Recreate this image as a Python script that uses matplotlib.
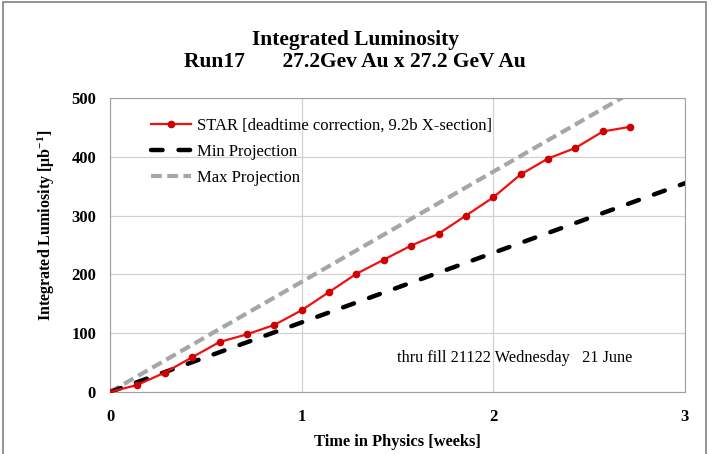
import numpy as np
import matplotlib
matplotlib.use("Agg")
import matplotlib.pyplot as plt
import matplotlib.patches as mpatches

plt.rcParams["font.family"] = ["Liberation Serif", "DejaVu Serif"]
plt.rcParams["mathtext.fontset"] = "custom"
plt.rcParams["mathtext.rm"] = "Liberation Serif:bold"
plt.rcParams["mathtext.it"] = "Liberation Serif:bold"
plt.rcParams["mathtext.bf"] = "Liberation Serif:bold"

# ── data ─────────────────────────────────────────────────────────────────────
days      = np.arange(20)
star_wk   = days / 7.0
star_lumi = [0, 12, 33, 59, 85, 98, 114, 139, 170, 201,
             225, 249, 269, 300, 331, 370, 397, 415, 443, 451]

min_wk    = [0, 3]
min_lumi  = [0, 355]
max_wk    = [0, 3]
max_lumi  = [0, 562]

xticks = [0, 1, 2, 3]
yticks = [0, 100, 200, 300, 400, 500]

# ── figure ───────────────────────────────────────────────────────────────────
fig = plt.figure(figsize=(7.12, 4.54), dpi=100)
ax = fig.add_axes([0.1545, 0.1366, 0.8075, 0.6476])

ax.plot(star_wk, star_lumi, color="#F01010", lw=1.6, marker="o", ms=4.5,
        mfc="#D00000", mec="#D00000",
        label="STAR [deadtime correction, 9.2b X-section]", zorder=4)
ax.plot(min_wk, min_lumi, color="black", lw=3.2, dashes=(2.6, 3.6),
        dash_capstyle="round",
        label="Min Projection", zorder=3)
ax.plot(max_wk, max_lumi, color="#A6A6A6", lw=3.0, dashes=(2.6, 1.3),
        label="Max Projection", zorder=2)

ax.set_xlim(0, 3)
ax.set_ylim(0, 500)
ax.set_xticks(xticks)
ax.set_yticks(yticks)
ax.grid(True, color="#D0D0D0", lw=0.9)
ax.set_axisbelow(True)
for s in ax.spines.values():
    s.set_color("#A0A0A0")
ax.tick_params(axis="y", length=0, labelsize=12, pad=10)
ax.tick_params(axis="x", length=0, labelsize=12, pad=12)
for lab in ax.get_xticklabels() + ax.get_yticklabels():
    lab.set_fontweight("bold")

ax.set_xlabel("Time in Physics [weeks]", fontsize=11.8, fontweight="bold", labelpad=7)
ax.set_ylabel(r"Integrated Lumiosity [$\mu$b$^{-1}$]", fontsize=11.5,
              fontweight="bold")
ax.yaxis.set_label_coords(-0.093, 0.568)

ax.text(2.11, 57, "thru fill 21122 Wednesday   21 June", fontsize=11.7,
        ha="center", va="center")

ax.legend(loc="upper left", bbox_to_anchor=(0.045, 0.985), frameon=False,
          fontsize=12, handlelength=2.4, handletextpad=0.35, labelspacing=0.62)

fig.text(0.499, 0.912, "Integrated Luminosity", ha="center", va="center",
         fontsize=15.5, fontweight="bold")
fig.text(0.499, 0.863, "Run17       27.2Gev Au x 27.2 GeV Au", ha="center",
         va="center", fontsize=15.5, fontweight="bold")

# outer frame
fig.patches.append(mpatches.Rectangle((0.004, -0.01), 0.987, 1.005,
                                      transform=fig.transFigure, fill=False,
                                      edgecolor="#808080", lw=1.2))

fig.savefig("out.png", dpi=100)
